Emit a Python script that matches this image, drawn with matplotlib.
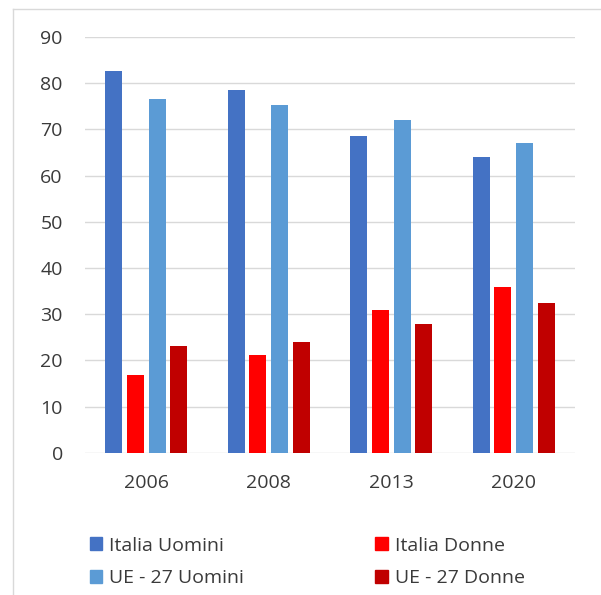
import matplotlib
matplotlib.use("Agg")
import matplotlib.pyplot as plt
from matplotlib.patches import Patch
from matplotlib.lines import Line2D
import numpy as np

years = ["2006", "2008", "2013", "2020"]
italia_uomini = [82.7, 78.6, 68.5, 64.0]
italia_donne = [16.8, 21.2, 31.0, 35.8]
ue_uomini = [76.5, 75.4, 72.0, 67.1]
ue_donne = [23.0, 24.0, 27.9, 32.4]
series_names = ["Italia Uomini", "Italia Donne", "UE - 27 Uomini", "UE - 27 Donne"]
yticks = [0, 10, 20, 30, 40, 50, 60, 70, 80, 90]

colors = ["#4472C4", "#FF0000", "#5B9BD5", "#C00000"]
series = [italia_uomini, italia_donne, ue_uomini, ue_donne]

plt.rcParams['font.family'] = ['Open Sans', 'DejaVu Sans']
W, H = 601, 595
fig = plt.figure(figsize=(W/100, H/100), dpi=100)
ax = fig.add_axes([85/W, 1-452.7/H, 490/W, (452.7-37.1)/H])

x = np.arange(len(years))
step = 0.177
width = 0.139
for i, (vals, c, name) in enumerate(zip(series, colors, series_names)):
    ax.bar(x + (i-1.5)*step, vals, width=width, color=c, label=name, zorder=3)

ax.set_xlim(-0.5, len(years)-0.5)
ax.set_ylim(0, 90)
ax.set_yticks(yticks)
ax.set_xticks(x)
ax.set_xticklabels(years)
ax.grid(axis='y', color='#d9d9d9', linewidth=1.0, zorder=0)
for s in ax.spines.values():
    s.set_visible(False)
ax.tick_params(axis='y', length=0, pad=16, labelsize=14, labelcolor='#3a3a3a')
ax.tick_params(axis='x', length=0, pad=15, labelsize=14, labelcolor='#3a3a3a')

handles = [Patch(color=colors[0]), Patch(color=colors[2]), Patch(color=colors[1]), Patch(color=colors[3])]
labels = [series_names[0], series_names[2], series_names[1], series_names[3]]
fig.legend(handles, labels, ncol=2, loc='upper left', bbox_to_anchor=(82/W, 1-529/H),
           frameon=False, fontsize=14, labelcolor='#3a3a3a', handlelength=0.65, handleheight=0.65,
           handletextpad=0.35, columnspacing=6.75, labelspacing=0.75, borderaxespad=0)

# light frame border (top and left)
fig.add_artist(Line2D([13/W, 1], [1-9/H, 1-9/H], color='#d9d9d9', linewidth=1, transform=fig.transFigure))
fig.add_artist(Line2D([13/W, 13/W], [0, 1-9/H], color='#d9d9d9', linewidth=1, transform=fig.transFigure))

fig.savefig("out.png", dpi=100, facecolor='white')
